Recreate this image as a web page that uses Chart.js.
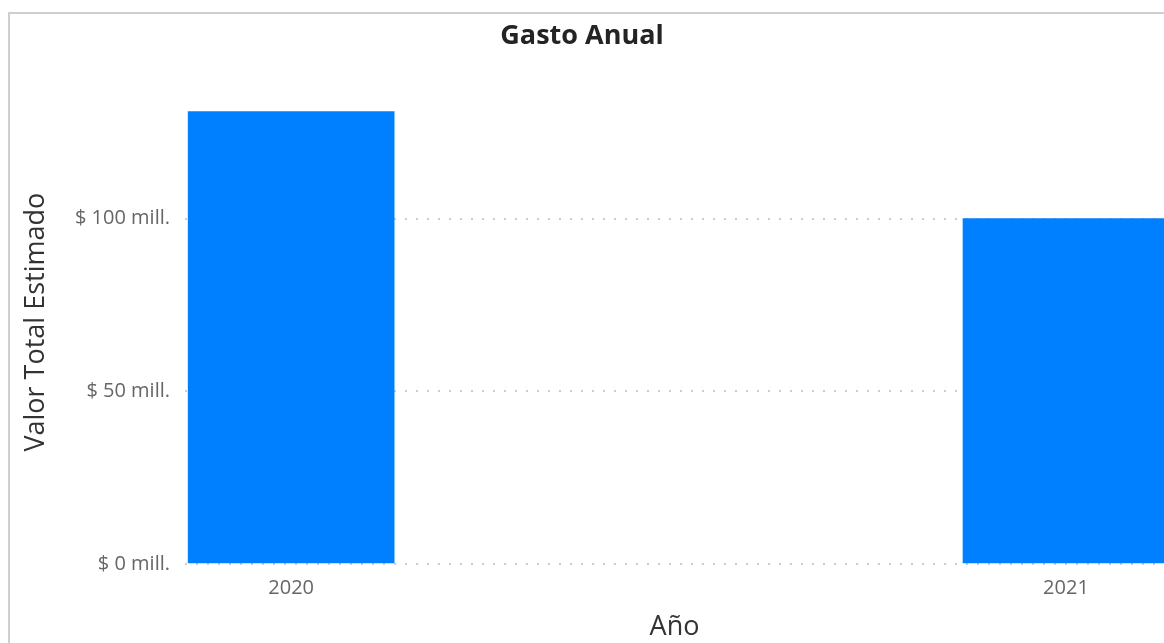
<!DOCTYPE html>
<html>
<head>
<meta charset="utf-8">
<script src="https://cdn.jsdelivr.net/npm/chart.js@4"></script>
<style>
  html, body { margin: 0; padding: 0; background: #fff; overflow: hidden; }
  #frame { position: absolute; left: 8px; top: 12px; width: 2000px; height: 2000px;
           border-left: 2px solid #cfcfcf; border-top: 2px solid #cfcfcf; }
  #wrap { position: absolute; left: 0; top: 0; width: 1164px; height: 643px; }
</style>
</head>
<body>
<div id="frame"></div>
<div id="wrap"><canvas id="gastoChart"></canvas></div>
<script>
const years = [2020, 2021];
const gasto = [131, 100]; // millones
const yTicks = [0, 50, 100];

const fontFam = "'Open Sans', 'Noto Sans', sans-serif";

new Chart(document.getElementById("gastoChart"), {
  type: "bar",
  data: {
    datasets: [{
      label: "Valor Total Estimado",
      data: years.map((y, i) => ({ x: y, y: gasto[i] })),
      backgroundColor: "#0080ff",
      barThickness: 206
    }]
  },
  options: {
    responsive: true,
    maintainAspectRatio: false,
    animation: false,
    layout: { padding: 0 },
    plugins: {
      legend: { display: false },
      tooltip: { enabled: false },
      title: {
        display: true,
        text: "Gasto Anual",
        color: "#252423",
        font: { family: fontFam, size: 27, weight: "bold", lineHeight: 1.2 },
        padding: { top: 20, bottom: 28 }
      }
    },
    scales: {
      x: {
        type: "linear",
        offset: false,
        min: 2019.863,
        max: 2021.1265,
        afterBuildTicks: s => { s.ticks = years.map(v => ({ value: v })); },
        afterFit: s => { s.height = 79; },
        grid: { display: false, drawTicks: false },
        border: { display: false },
        ticks: {
          padding: 12,
          color: "#666",
          font: { family: fontFam, size: 20 },
          callback: v => String(v)
        },
        title: {
          display: true,
          text: "Año",
          color: "#333",
          font: { family: fontFam, size: 27, lineHeight: 1.1 },
          padding: { top: 2, bottom: 1 }
        }
      },
      y: {
        min: 0,
        max: 140,
        afterBuildTicks: s => { s.ticks = yTicks.map(v => ({ value: v })); },
        afterFit: s => { s.width = 185; },
        grid: {
          color: "#cccccc",
          lineWidth: 2,
          drawTicks: false
        },
        border: { display: false, dash: [2, 9] },
        ticks: {
          padding: 15,
          color: "#666",
          font: { family: fontFam, size: 20 },
          callback: v => "$ " + v + " mill."
        },
        title: {
          display: true,
          text: "Valor Total Estimado",
          color: "#333",
          font: { family: fontFam, size: 27, lineHeight: 1.2 },
          padding: { top: 20, bottom: 0 }
        }
      }
    }
  }
});
</script>
</body>
</html>
